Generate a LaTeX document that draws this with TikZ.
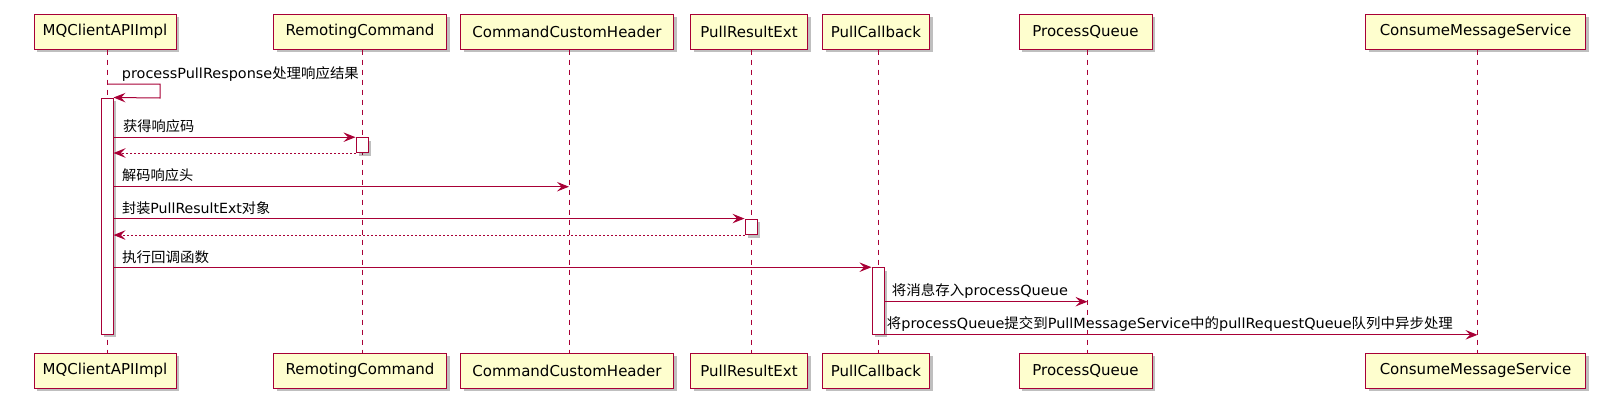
\documentclass[tikz,border=0pt]{standalone}
\usepackage{graphicx}
\usepackage{fontspec}
\setmainfont{DejaVu Sans}
\newfontfamily\cjkfont{Noto Sans CJK SC}
\newcommand\zh[1]{{\cjkfont #1}}
\newcommand\fitto[2]{\resizebox{#1}{\height}{#2}}
\usetikzlibrary{arrows.meta,shadows}
\definecolor{pu}{HTML}{A80036}
\definecolor{pubg}{HTML}{FEFECE}
\begin{document}
\begin{tikzpicture}[x=1pt,y=-1pt,
  shad/.style={drop shadow={shadow xshift=3pt,shadow yshift=-3pt,fill=black,opacity=0.25}},
  part/.style={draw=pu,fill=pubg,line width=1pt,minimum height=35pt,inner sep=0pt,
    font=\fontsize{15}{18}\selectfont,shad},
  act/.style={draw=pu,fill=white,line width=1pt,minimum width=12pt,inner sep=0pt,shad},
  lifeline/.style={draw=pu,line width=1pt,dash pattern=on 5pt off 5pt},
  msg/.style={draw=pu,line width=1pt,-{Stealth[length=12pt,width=9.5pt,inset=4.5pt]}},
  ret/.style={msg,dash pattern=on 2pt off 2pt},
  lbl/.style={anchor=base west,inner sep=0pt,font=\fontsize{14}{16}\selectfont}]
\useasboundingbox (0,0) rectangle (1614,408);
% participants
\foreach \n/\x/\w/\t in {mq/105/142/MQClientAPIImpl,rc/360/173/RemotingCommand,
  cch/567/213/CommandCustomHeader,pre/749/117/PullResultExt,pc/876/107/PullCallback,
  pq/1085.5/133/ProcessQueue,cms/1475.5/220/ConsumeMessageService}{
  \node[part,minimum width=\w pt] (\n T) at (\x,31.5) {\t};
  \node[part,minimum width=\w pt] (\n B) at (\x,370.8) {\t};
  \path (\n T.south) ++(2,0) coordinate (l\n);
  \path (\n B.north) ++(2,0) coordinate (m\n);
  \draw[lifeline] (l\n) -- (m\n);
}
% activations
\node[act,minimum height=236pt] (aMQ) at (lmq |- 0,216) {};
\node[act,minimum height=14.8pt] (aRC) at (lrc |- 0,145.1) {};
\node[act,minimum height=15.5pt] (aPRE) at (lpre |- 0,226.8) {};
\node[act,minimum height=66.6pt] (aPC) at (lpc |- 0,301) {};
% messages
\coordinate (s1) at (lmq |- 0,84);
\draw[msg] (s1) -- (160,84) -- (160,98) -- (aMQ.north east);
\node[lbl] (t1) at (121.7,78.5) {\fitto{237pt}{processPullResponse\zh{处理响应结果}}};
\draw[msg] (aMQ.east |- aRC.north) -- (aRC.north west);
\node[lbl] (t2) at (123,131.5) {\fitto{71pt}{\zh{获得响应码}}};
\draw[ret] (aRC.south west) -- (aMQ.east |- aRC.south);
\draw[msg] (aMQ.east |- 0,186.7) -- (lcch |- 0,186.7);
\node[lbl] (t3) at (122,180.5) {\fitto{71pt}{\zh{解码响应头}}};
\draw[msg] (aMQ.east |- aPRE.north) -- (aPRE.north west);
\node[lbl] (t4) at (122,213) {\fitto{148pt}{\zh{封装}PullResultExt\zh{对象}}};
\draw[ret] (aPRE.south west) -- (aMQ.east |- aPRE.south);
\draw[msg] (aMQ.east |- aPC.north) -- (aPC.north west);
\node[lbl] (t5) at (122,262) {\fitto{87pt}{\zh{执行回调函数}}};
\draw[msg] (aPC.east |- 0,301.7) -- (lpq |- 0,301.7);
\node[lbl] (t6) at (891.7,295.5) {\fitto{176pt}{\zh{将消息存入}processQueue}};
\draw[msg] (aPC.south east) -- (lcms |- aPC.south);
\node[lbl] (t7) at (886.7,328.5) {\fitto{566pt}{\zh{将}processQueue\zh{提交到}PullMessageService\zh{中的}pullRequestQueue\zh{队列中异步处理}}};
\end{tikzpicture}
\end{document}
